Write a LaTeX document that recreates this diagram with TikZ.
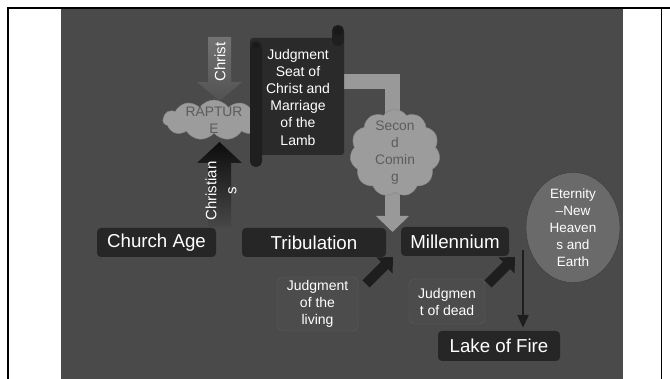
\documentclass[tikz,border=0pt]{standalone}
\usepackage{fontspec}
\setmainfont{Liberation Sans}
\usetikzlibrary{shapes.symbols,shapes.geometric,arrows.meta,positioning,calc}

\definecolor{slide}{HTML}{4A4A4A}
\definecolor{stagefill}{HTML}{262626}
\definecolor{judgefill}{HTML}{4C4C4C}
\definecolor{judgeline}{HTML}{5C5C5C}
\definecolor{cloudfill}{HTML}{9C9C9C}
\definecolor{cloudline}{HTML}{858585}
\definecolor{cloudtext}{HTML}{5C5C5C}
\definecolor{comingarrow}{HTML}{999999}
\definecolor{arrowdark}{HTML}{1E1E1E}
\definecolor{scrollfill}{HTML}{2A2A2A}
\definecolor{rollfill}{HTML}{1F1F1F}
\definecolor{eternityfill}{HTML}{6A6A6A}
\definecolor{eternityline}{HTML}{3C3C3C}

\tikzset{
    stage/.style={fill=stagefill, rounded corners=4pt, text=white, inner sep=0pt,
        minimum height=29pt, font=\fontsize{18.7}{22}\selectfont},
    judgebox/.style={draw=judgeline, fill=judgefill, rounded corners=6pt, text=white,
        align=center, inner sep=0pt, font=\fontsize{14}{17}\selectfont},
    puff/.style={cloud, cloud puffs=11, cloud puff arc=110, cloud ignores aspect,
        draw=cloudline, fill=cloudfill, inner sep=0pt},
    puffword/.style={text=cloudtext, align=center, font=\fontsize{13.8}{17}\selectfont},
    blockarrow/.style={line width=10pt, arrowdark, -{Triangle[width=22pt,length=12pt]}},
}

\begin{document}
\begin{tikzpicture}[x=1pt,y=-1pt]
    \useasboundingbox (0,0) rectangle (670,379);
    % slide and frame
    \fill[slide] (61,9) rectangle (623,379);
    \draw[line width=2.5pt] (8,379) -- (8,8) -- (670,8);
    \draw[line width=1pt] (661,8) -- (661,379);

    % second coming arrow from the judgment seat
    \coordinate (seatout) at (344,81.5);
    \coordinate (landing) at (392.5,232);
    \draw[comingarrow, line width=15pt, line join=miter,
        -{Triangle[width=32pt,length=16pt]}] (seatout) -| (landing);

    % rapture cloud (right part hidden by the scroll)
    \node[puff, minimum width=102pt, minimum height=40pt] (rapture) at (214,120) {};
    \node[puffword] at (rapture) {RAPTUR\\E};

    % judgment seat scroll
    \fill[scrollfill, rounded corners=3pt] (250,38) rectangle (344,155);
    \fill[rollfill, rounded corners=5.5pt] (250,41) rectangle (262,167);
    \fill[rollfill, rounded corners=5.5pt] (332,25) rectangle (344,46);
    \fill[black!90] (338,31) circle (4.5pt);
    \fill[black!90] (256,46) circle (3pt);
    \node[text=white, align=center, font=\fontsize{14}{17.2}\selectfont] (seat) at (298,97)
        {Judgment\\Seat of\\Christ and\\Marriage\\of the\\Lamb};

    % second coming cloud
    \node[puff, minimum width=90pt, minimum height=87pt] (coming) at (395,153) {};
    \node[puffword] at (coming) {Secon\\d\\Comin\\g};

    % Christ coming down
    \shade[top color=black!55, bottom color=black!68]
        (208,37) -- (231,37) -- (231,82) -- (242,82) -- (219.5,101) -- (197,82) -- (208,82) -- cycle;
    \node[rotate=90, text=white, font=\fontsize{15}{18}\selectfont] (christ) at (220,62) {Christ};

    % Christians going up
    \shade[top color=black!95, bottom color=black!72]
        (219.5,142) -- (242,163) -- (231,163) -- (231,227) -- (208,227) -- (208,163) -- (197,163) -- cycle;
    \node[rotate=90, text=white, align=center, font=\fontsize{15}{20}\selectfont] (christians)
        at (221,191) {Christian\\s};

    % stages
    \node[stage, minimum width=119pt] (church) at (156.5,242.5) {Church Age};
    \node[stage, minimum width=144pt] (trib) at (314,242.5) {Tribulation};
    \node[stage, minimum width=108pt] (mill) at (455,241.5) {Millennium};
    \node[stage, minimum width=122pt, minimum height=30pt] (lake) at (499,346) {Lake of Fire};
    \node[ellipse, draw=eternityline, fill=eternityfill, minimum width=94pt, minimum height=103pt,
        inner sep=0pt, text=white, align=center, font=\fontsize{13.5}{17}\selectfont] (eternity)
        at (573,227.5) {Eternity\\--New\\Heaven\\s and\\Earth};

    % judgments
    \node[judgebox, minimum width=81pt, minimum height=54pt] (living) at (317.5,304)
        {Judgment\\of the\\living};
    \node[judgebox, minimum width=76pt, minimum height=45pt] (dead) at (447,301.5)
        {Judgmen\\t of dead};
    \coordinate (livingout) at (366,284);
    \coordinate (livingin) at (393,257);
    \coordinate (deadout) at (488,284);
    \coordinate (deadin) at (515,257);
    \draw[blockarrow] (livingout) -- (livingin);
    \draw[blockarrow] (deadout) -- (deadin);

    % down to the lake of fire
    \coordinate (fall) at (523,250);
    \draw[line width=2.5pt, arrowdark, -{Triangle[width=11pt,length=13pt]}] (fall) -- ($(lake.north)+(24,-3)$);
\end{tikzpicture}
\end{document}
